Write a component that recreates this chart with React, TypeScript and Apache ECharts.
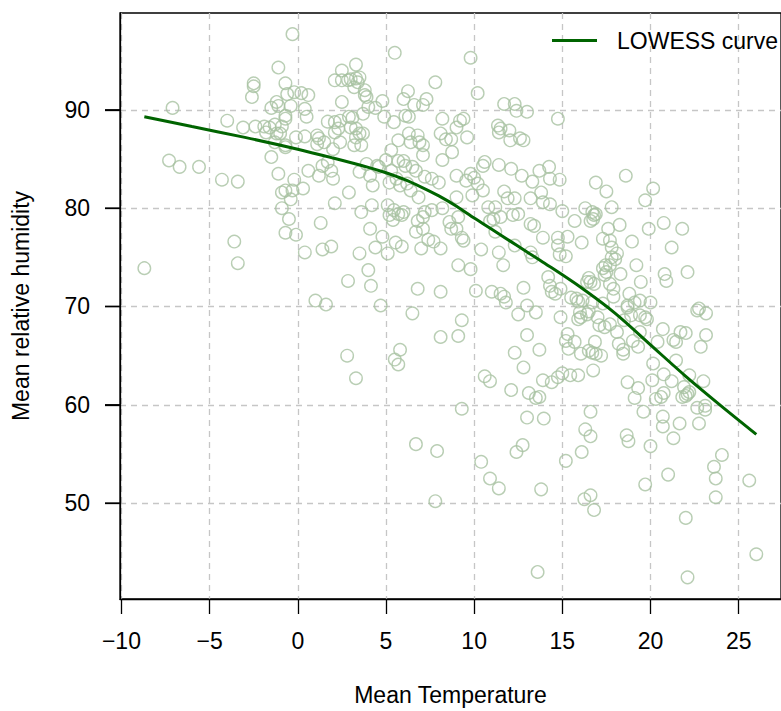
import { useEffect, useRef } from "react";
import * as echarts from "echarts";

// Mean temperature (x) and mean relative humidity (y) of each observation
const temperature = [
  -0.3, -1.1, -2.5, -2.5, -2.6, -0.7, -0.6, -0.2, 0.2, 0.6, -7.1, -1.5, -1.1, -1.2, -0.4, 0.4, 0.5, -0.7, -4.0, -3.1,
  -2.4, -1.9, -1.6, -1.8, -1.3, -0.9, -1.0, -0.7, -1.2, -1.3, -0.7, -0.7, -0.1, 0.4, 1.1, 1.2, 1.5, 1.1, 1.7, 2.1,
  2.4, 2.1, 2.3, 2.1, 2.0, 2.4, -1.5, -7.3, -6.7, -5.6, -4.3, -3.4, -1.1, -0.2, 0.6, 1.2, 1.4, 1.7, 1.9, 2.0,
  -0.9, -0.7, -0.3, -0.4, 0.3, -0.9, -0.5, -0.7, -0.1, 1.3, 2.1, -3.6, -3.4, -8.7, 0.4, 1.4, 1.9, 1.0, 1.6, 2.5,
  5.5, 9.8, 3.3, 2.5, 2.5, 2.85, 3.0, 3.3, 3.5, 3.4, 3.2, 3.8, 3.8, 3.9, 7.8, 6.25, 6.0, 6.6, 7.1, 7.3,
  4.8, 4.0, 4.4, 10.2, 11.7, 12.3, 12.4, 13.0, 2.9, 3.1, 3.7, 4.9, 5.45, 6.1, 6.3, 8.2, 9.0, 9.2, 9.4, 9.6,
  11.35, 11.5, 11.4, 12.0, 12.05, 12.6, 12.8, 3.0, 3.3, 3.5, 3.7, 3.3, 3.2, 3.6, 5.7, 6.3, 6.4, 6.8, 6.9, 7.1,
  8.1, 8.4, 8.7, 7.1, 5.3, 5.0, 8.2, 8.75, 3.9, 4.5, 4.6, 5.7, 6.0, 6.1, 6.5, 6.7, 5.3, 3.5, 4.1, 5.2,
  5.6, 5.8, 6.2, 4.25, 7.2, 7.6, 8.0, 9.0, 9.55, 9.8, 10.0, 10.2, 10.5, 10.5, 10.6, 11.4, 12.1, 12.7, 13.3, 13.7,
  14.25, 11.7, 11.9, 12.3, 13.2, 13.8, 13.9, 14.3, 6.4, 6.85, 9.0, 9.9, 2.9, 3.6, 5.1, 5.2, 5.45, 5.4, 5.7, 5.9,
  6.0, 4.2, 6.8, 7.1, 7.2, 7.6, 8.2, 7.1, 6.7, 8.6, 9.1, 8.7, 9.0, 9.3, 9.4, 10.8, 11.2, 11.1, 10.9, 11.5,
  11.2, 12.2, 12.5, 13.2, 13.4, 13.9, 4.1, 4.8, 4.4, 3.5, 5.55, 5.9, 5.1, 7.0, 7.4, 7.7, 8.1, 10.4, 11.4, 12.3,
  13.2, 13.3, 4.0, 2.85, 4.15, 9.1, 9.8, 11.65, 6.8, 8.1, 10.1, 11.0, 11.5, 11.7, 11.8, 12.8, 14.2, 14.3, 14.4, 4.7,
  13.0, 14.75, 14.85, 14.3, 18.6, 16.9, 17.5, 20.15, 19.7, 15.0, 15.7, 16.3, 16.7, 16.8, 16.9, 16.6, 16.75, 17.8, 18.25, 17.6,
  19.9, 20.75, 21.8, 21.2, 14.75, 14.75, 15.3, 14.85, 15.2, 16.1, 17.3, 17.7, 17.8, 18.1, 17.8, 18.0, 17.7, 17.45, 17.3, 17.5,
  17.4, 18.3, 18.95, 19.2, 19.45, 20.8, 20.9, 22.1, 16.5, 16.6, 16.8, 16.4, 17.7, 17.9, 14.9, 14.6, 15.5, 15.8, 16.15, 18.8,
  18.7, 19.4, 20.0, 17.9, 22.75, 6.5, 9.3, 8.1, 9.1, 2.8, 5.8, 5.5, 5.7, 3.3, 9.3, 6.7, 7.9, 10.4, 10.9, 11.4,
  7.8, 13.6, 12.5, 13.5, 13.0, 12.3, 13.7, 12.8, 10.6, 10.9, 12.1, 13.1, 13.5, 13.7, 13.9, 14.4, 13.0, 13.95, 12.75, 12.4,
  13.8, 15.9, 16.7, 17.3, 19.1, 14.9, 16.0, 16.05, 15.9, 16.4, 16.5, 17.0, 17.1, 17.4, 17.7, 18.1, 18.5, 18.9, 19.4, 19.7,
  19.8, 18.7, 15.3, 15.2, 15.7, 15.35, 16.05, 16.5, 16.7, 16.9, 17.2, 16.85, 18.2, 18.45, 18.45, 19.0, 19.3, 19.4, 20.7, 20.4,
  21.3, 21.45, 21.7, 22.0, 22.65, 23.15, 23.15, 22.85, 21.45, 20.15, 20.1, 20.75, 21.2, 18.7, 19.3, 19.1, 20.3, 20.6, 20.75, 19.6,
  21.9, 22.2, 22.0, 21.8, 22.1, 22.2, 23.0, 22.65, 23.1, 23.1, 22.75, 21.65, 20.7, 20.7, 21.3, 20.0, 18.65, 18.75, 14.75, 15.0,
  15.45, 15.9, 16.75, 16.6, 16.3, 16.6, 16.1, 15.2, 16.25, 16.6, 16.8, 19.7, 21.0, 24.05, 23.6, 23.7, 23.7, 25.6, 22.0, 26.0,
  22.1,
];

const humidity = [
  97.7, 94.3, 92.7, 92.4, 91.3, 92.7, 91.6, 91.8, 91.7, 91.5, 90.2, 90.2, 90.4, 90.8, 90.4, 90.1, 89.3, 89.4, 88.9, 88.2,
  88.3, 88.3, 88.2, 87.7, 88.5, 88.3, 87.6, 89.1, 87.6, 86.7, 86.4, 86.2, 87.2, 87.3, 87.4, 87.1, 86.7, 86.5, 88.8, 88.75,
  88.9, 87.7, 88.1, 93.0, 86.0, 86.7, 85.2, 84.85, 84.2, 84.2, 82.9, 82.7, 83.5, 82.9, 83.8, 83.3, 84.3, 84.7, 83.8, 83.0,
  81.6, 81.8, 81.8, 80.9, 82.0, 80.0, 78.9, 77.5, 77.3, 78.5, 80.5, 76.6, 74.4, 73.9, 75.5, 75.8, 76.1, 70.6, 70.2, 90.8,
  95.8, 95.3, 94.6, 94.0, 93.0, 93.0, 93.1, 93.2, 93.3, 92.8, 92.3, 92.0, 91.5, 91.3, 92.8, 91.9, 91.1, 90.5, 90.5, 91.1,
  90.9, 90.3, 90.2, 91.7, 90.6, 90.6, 89.9, 89.8, 89.3, 89.2, 89.6, 89.3, 88.75, 89.4, 89.3, 89.1, 88.2, 88.9, 89.1, 87.2,
  88.4, 88.1, 87.7, 87.9, 86.9, 87.1, 86.9, 88.2, 88.1, 87.6, 87.6, 87.2, 86.4, 86.4, 86.9, 87.6, 86.7, 87.4, 86.7, 86.4,
  87.6, 87.0, 87.0, 85.4, 85.9, 84.9, 84.9, 85.7, 84.5, 84.3, 84.2, 84.8, 84.8, 84.3, 84.2, 83.8, 83.8, 83.7, 83.3, 82.6,
  83.0, 82.3, 82.5, 82.3, 83.2, 83.0, 82.6, 83.3, 82.8, 83.5, 83.1, 82.5, 81.8, 84.3, 84.7, 84.4, 84.0, 83.3, 82.7, 83.8,
  84.2, 81.7, 81.0, 81.0, 81.0, 81.6, 80.6, 80.4, 81.8, 81.1, 81.1, 81.3, 81.6, 79.6, 80.3, 79.3, 79.8, 78.8, 79.4, 79.3,
  79.6, 80.3, 78.7, 79.1, 79.6, 79.8, 80.0, 77.9, 77.6, 78.6, 79.1, 77.9, 77.9, 77.0, 76.7, 80.1, 80.1, 78.9, 78.7, 79.1,
  77.6, 79.3, 79.4, 78.4, 78.2, 77.0, 77.9, 77.1, 76.0, 75.4, 76.5, 76.1, 75.4, 75.9, 76.8, 76.6, 75.9, 75.8, 75.5, 76.2,
  75.5, 75.0, 73.7, 72.6, 72.1, 74.2, 73.8, 74.2, 71.8, 71.5, 71.6, 71.5, 71.3, 71.0, 70.4, 71.9, 73.0, 72.1, 71.5, 70.1,
  70.1, 89.1, 82.9, 83.0, 83.3, 82.6, 81.7, 82.0, 80.8, 79.7, 78.7, 80.0, 79.6, 79.3, 79.4, 78.7, 78.9, 80.1, 78.3, 77.9,
  77.9, 78.5, 77.9, 76.0, 77.0, 76.2, 77.1, 75.3, 75.1, 76.5, 76.9, 76.7, 76.0, 75.4, 75.0, 74.8, 74.2, 74.2, 73.9, 73.5,
  73.2, 73.3, 76.6, 74.2, 72.5, 73.3, 72.6, 73.5, 72.9, 72.5, 72.3, 72.5, 72.3, 71.8, 71.8, 71.3, 70.9, 70.8, 70.6, 71.3,
  70.1, 70.6, 70.4, 71.0, 69.8, 69.3, 68.6, 66.9, 67.0, 65.0, 65.6, 64.6, 64.1, 62.7, 59.6, 56.0, 55.3, 54.2, 52.5, 51.5,
  50.2, 43.0, 69.2, 69.4, 67.1, 65.3, 65.6, 63.8, 62.9, 62.4, 61.5, 61.2, 60.7, 60.8, 62.5, 62.3, 58.7, 58.6, 55.9, 55.2,
  51.4, 70.5, 70.4, 70.3, 70.4, 68.9, 69.4, 68.9, 68.7, 69.2, 69.5, 68.9, 68.1, 67.9, 68.2, 67.4, 68.6, 69.1, 69.1, 68.9,
  68.7, 69.9, 67.2, 66.5, 66.4, 65.7, 65.2, 65.5, 65.3, 65.2, 65.0, 66.4, 66.2, 65.6, 65.2, 66.5, 65.9, 67.4, 67.7, 66.4,
  66.6, 66.4, 67.4, 67.3, 69.6, 69.3, 67.1, 65.9, 64.5, 64.2, 62.5, 63.1, 62.4, 62.3, 61.7, 60.7, 60.6, 60.8, 61.2, 59.3,
  61.8, 61.3, 60.9, 60.8, 61.1, 63.0, 62.4, 59.7, 59.9, 59.5, 58.1, 58.1, 58.8, 57.8, 56.6, 55.8, 56.9, 56.3, 62.8, 63.2,
  63.0, 63.0, 63.5, 59.3, 57.5, 56.8, 55.2, 54.3, 50.4, 50.8, 49.3, 51.9, 52.9, 54.9, 53.7, 52.5, 50.6, 52.3, 48.5, 44.8,
  42.45,
];

// LOWESS smoother
const lowessTemp = [-8.7, -6, -3, 0, 2, 4, 5, 6, 7, 8, 9, 10, 11, 12, 13, 14, 16, 18, 20, 22, 24, 26];
const lowessHumidity = [89.3, 88.3, 87.2, 86.0, 85.1, 84.15, 83.6, 82.95, 82.15, 81.25, 80.2, 79.0, 77.85, 76.7, 75.55, 74.4, 72.0, 69.3, 66.1, 62.9, 59.9, 57.0];

const xTicks = [-10, -5, 0, 5, 10, 15, 20, 25];
const yTicks = [50, 60, 70, 80, 90];

const X_MIN = -10.08;
const X_MAX = 27.4;
const Y_MIN = 40.25;
const Y_MAX = 99.85;

const FONT = "'Liberation Sans', Arial, Helvetica, sans-serif";
const FS = 23;

export default function App() {
  const ref = useRef<HTMLDivElement>(null);

  useEffect(() => {
    if (!ref.current) return;
    const chart = echarts.init(ref.current, null, { renderer: "svg" });
    const points = temperature.map((t, i) => [t, humidity[i]]);
    const curve = lowessTemp.map((t, i) => [t, lowessHumidity[i]]);
    const grid = { type: [6, 5] as number[], color: "#c6c6c6", width: 1.3 };
    const tickStyle = { color: "#000000", width: 1.3 };
    chart.setOption({
      animation: false,
      backgroundColor: "#ffffff",
      textStyle: { fontFamily: FONT },
      grid: {
        left: 120,
        top: 13,
        width: 671.6,
        height: 587,
        show: true,
        borderColor: "#000000",
        borderWidth: 1.3,
        backgroundColor: "transparent",
      },
      legend: {
        data: [{ name: "LOWESS curve", icon: "rect" }],
        left: 552,
        top: 29,
        padding: 0,
        itemWidth: 45,
        itemHeight: 3,
        textStyle: { fontSize: FS, color: "#000000", fontFamily: FONT, padding: [0, 0, 0, 15] },
      },
      xAxis: {
        type: "value",
        position: "bottom",
        min: X_MIN,
        max: X_MAX,
        axisLine: { show: true, onZero: false, lineStyle: tickStyle },
        axisTick: { show: true, inside: false, customValues: xTicks, length: 15, lineStyle: tickStyle },
        axisLabel: {
          customValues: xTicks,
          margin: 30,
          fontSize: FS,
          color: "#000000",
          fontFamily: FONT,
          formatter: (v: number) => (v < 0 ? "\u2212" + Math.abs(v) : String(v)),
        },
        splitLine: { show: true, lineStyle: grid },
        name: "Mean Temperature",
        nameLocation: "middle",
        nameGap: 84,
        nameTextStyle: { fontSize: FS, color: "#000000", fontFamily: FONT },
      },
      yAxis: {
        type: "value",
        position: "left",
        min: Y_MIN,
        max: Y_MAX,
        axisLine: { show: true, onZero: false, lineStyle: tickStyle },
        axisTick: { show: true, inside: false, customValues: yTicks, length: 15, lineStyle: tickStyle },
        axisLabel: {
          customValues: yTicks,
          margin: 30,
          fontSize: FS,
          color: "#000000",
          fontFamily: FONT,
        },
        splitLine: { show: true, lineStyle: grid },
        name: "Mean relative humidity",
        nameLocation: "middle",
        nameGap: 88,
        nameRotate: 90,
        nameTextStyle: { fontSize: FS, color: "#000000", fontFamily: FONT },
      },
      series: [
        {
          type: "scatter",
          name: "Observations",
          data: points,
          symbol: "circle",
          symbolSize: 12.5,
          itemStyle: { color: "rgba(0,0,0,0)", borderColor: "#a7c2a1", borderWidth: 1.4 },
          emphasis: { disabled: true },
          z: 2,
        },
        {
          type: "line",
          name: "LOWESS curve",
          data: curve,
          smooth: 0.3,
          showSymbol: false,
          symbol: "none",
          itemStyle: { color: "#006400" },
          lineStyle: { color: "#006400", width: 3 },
          z: 3,
        },
      ],
    });

    // y-axis tick marks, positioned through the axis scale
    const x0 = chart.convertToPixel({ xAxisIndex: 0 }, X_MIN) as number;
    chart.setOption({
      graphic: yTicks.map((v) => {
        const y = chart.convertToPixel({ yAxisIndex: 0 }, v) as number;
        return {
          type: "line",
          z: 100,
          silent: true,
          shape: { x1: x0 - 15, y1: y, x2: x0, y2: y },
          style: { stroke: "#000000", lineWidth: 1.5 },
        };
      }),
    });
    return () => chart.dispose();
  }, []);

  return (
    <div
      ref={ref}
      style={{ position: "absolute", left: 0, top: 0, width: 781, height: 711 }}
    />
  );
}
